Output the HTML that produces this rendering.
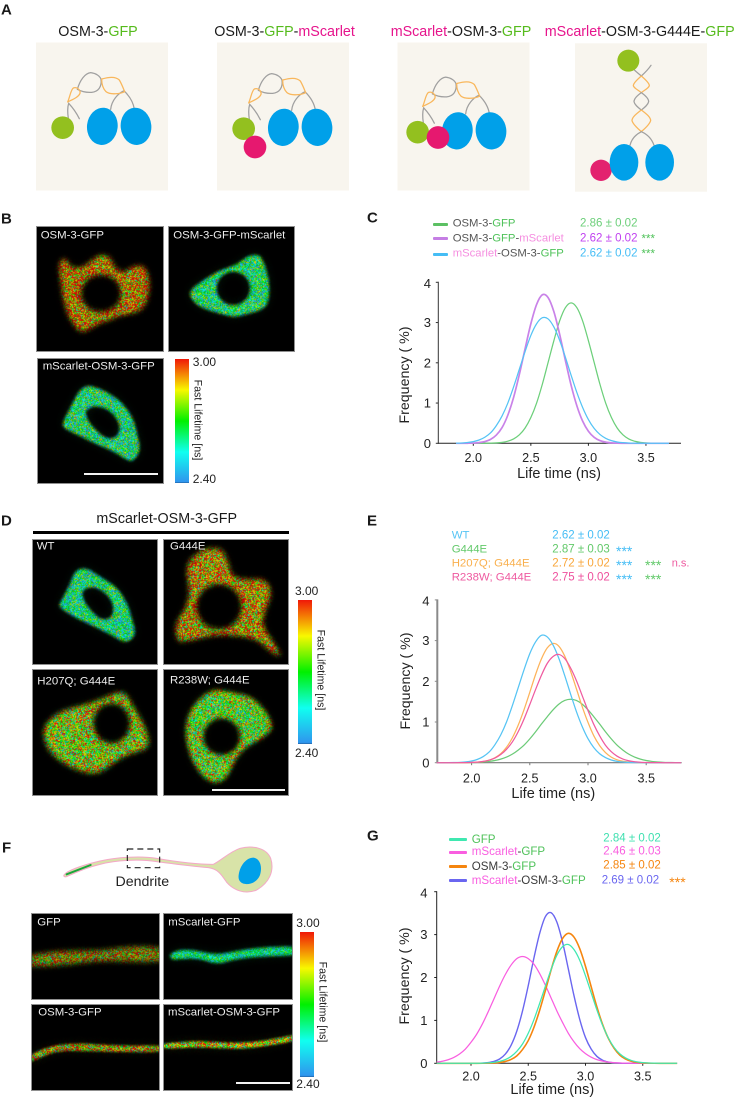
<!DOCTYPE html>
<html lang="en">
<head>
<meta charset="utf-8">
<title>OSM-3 FLIM figure</title>
<style>
html,body{margin:0;padding:0;background:#fff}
body{position:relative;width:736px;height:1100px;overflow:hidden;font-family:"Liberation Sans",sans-serif;color:#222}
.t{position:absolute;white-space:nowrap;line-height:1;transform:translateY(-50%)}
.c{transform:translate(-50%,-50%)}
.rl{transform:translate(-50%,-50%) rotate(-90deg)}
.rr{transform:translate(-50%,-50%) rotate(90deg)}
.letter{font-weight:bold;font-size:15px;color:#1a1a1a}
.title{font-size:14.3px;color:#1a1a1a}
.img-label{font-size:11.4px;color:#ededed}
.cbl{font-size:12px;color:#222}
.cbt{font-size:10.6px;color:#222}
.leg{font-size:11.3px;color:#555}
.val{font-size:11.5px}
.axt{font-size:14.5px;color:#222}
.ayt{font-size:14.2px;color:#222}
.line{position:absolute;height:3px;border-radius:1px}
canvas{position:absolute;background:#000;outline:1px solid #8f8f8f;outline-offset:-1px}
.bar{position:absolute;background:#f2f2f2;height:2px}
.cb{position:absolute;background:linear-gradient(to bottom,#f01808 0%,#f8f800 25%,#00f000 50%,#10fff0 75%,#2f96ee 99%,#2060a0 100%)}
svg.full{position:absolute;left:0;top:0}
i{font-style:normal}
.g{color:#55bb1c}.m{color:#e6148c}
.lg{color:#4fc25a}.lm{color:#f58ee0}
</style>
</head>
<body>

<!-- PANEL A -->
<svg class="full" width="736" height="200" viewBox="0 0 736 200">
  <defs>
    <g id="motor-linkers" fill="none" stroke-width="3.8" stroke-linecap="round">
      <path stroke="#a0a0a0" d="M272 208 C275 180 295 160 312 152 C325 165 340 185 343 208"/>
      <path stroke="#a0a0a0" d="M172 148 C180 120 195 100 212 98 C228 100 240 108 243 118 C246 140 235 155 215 157 C200 158 185 155 172 148"/>
      <path stroke="#a0a0a0" d="M145 235 C142 215 143 200 146 190 C160 205 170 220 178 236"/>
      <path stroke="#f9b75c" d="M245 117 C265 112 285 108 298 120 C305 132 310 145 314 155 C300 162 270 165 258 155 C248 145 245 130 245 117"/>
      <path stroke="#f9b75c" d="M143 186 C150 170 152 150 160 144 C172 140 182 150 180 160 C175 172 158 178 143 186"/>
    </g>
  </defs>
  <rect x="36" y="42.5" width="132" height="148" fill="#f8f5ee"/>
  <rect x="217" y="42.5" width="132" height="148" fill="#f8f5ee"/>
  <rect x="397.5" y="42.5" width="132" height="148" fill="#f8f5ee"/>
  <rect x="575" y="43.3" width="132" height="148.4" fill="#f8f5ee"/>

  <g transform="translate(20,40) scale(.33333)">
    <use href="#motor-linkers"/>
    <ellipse cx="247" cy="259" rx="46" ry="56" fill="#00a0e9" transform="rotate(6 247 259)"/>
    <ellipse cx="348" cy="259" rx="46" ry="56" fill="#00a0e9" transform="rotate(-6 348 259)"/>
    <circle cx="128" cy="263" r="34" fill="#93c01f"/>
  </g>
  <g transform="translate(201,41) scale(.33333)">
    <use href="#motor-linkers"/>
    <ellipse cx="247" cy="259" rx="46" ry="56" fill="#00a0e9" transform="rotate(6 247 259)"/>
    <ellipse cx="348" cy="259" rx="46" ry="56" fill="#00a0e9" transform="rotate(-6 348 259)"/>
    <circle cx="128" cy="263" r="34" fill="#93c01f"/>
    <circle cx="162" cy="318" r="34" fill="#e6186f"/>
  </g>
  <g transform="translate(375,44.5) scale(.33333)">
    <use href="#motor-linkers"/>
    <ellipse cx="247" cy="259" rx="46" ry="56" fill="#00a0e9" transform="rotate(6 247 259)"/>
    <ellipse cx="348" cy="259" rx="46" ry="56" fill="#00a0e9" transform="rotate(-6 348 259)"/>
    <circle cx="128" cy="263" r="34" fill="#93c01f"/>
    <circle cx="189" cy="279" r="34" fill="#e6186f"/>
  </g>
  <g transform="translate(570,40) scale(.33333)">
    <g fill="none" stroke-width="3.8" stroke-linecap="round">
      <path stroke="#a0a0a0" d="M184 78 C192 92 205 100 214 108 C225 98 235 88 243 76"/>
      <path stroke="#f9b75c" d="M214 108 C200 120 190 130 190 137 C192 145 205 150 214 158 M214 108 C228 120 238 130 238 137 C236 145 223 150 214 158"/>
      <path stroke="#a0a0a0" d="M214 158 C200 168 192 176 192 185 C194 195 205 203 214 210 M214 158 C228 168 236 176 236 185 C234 195 223 203 214 210"/>
      <path stroke="#f9b75c" d="M214 210 C198 222 186 232 186 242 C190 255 204 266 214 275 M214 210 C230 222 242 232 242 242 C238 255 224 266 214 275"/>
      <path stroke="#a0a0a0" d="M214 275 C200 282 185 295 180 316 M214 275 C230 282 245 295 252 316"/>
    </g>
    <circle cx="175" cy="62" r="33" fill="#93c01f"/>
    <circle cx="93" cy="391" r="32" fill="#e3226f"/>
    <ellipse cx="162" cy="367" rx="43" ry="55" fill="#00a0e9"/>
    <ellipse cx="269" cy="367" rx="43" ry="55" fill="#00a0e9"/>
  </g>
</svg>
<div class="t letter" style="left:1px;top:10px">A</div>
<div class="t title c" style="left:98px;top:32px">OSM-3-<i class="g">GFP</i></div>
<div class="t title c" style="left:284.5px;top:32px">OSM-3-<i class="g">GFP</i>-<i class="m">mScarlet</i></div>
<div class="t title c" style="left:461px;top:32px"><i class="m">mScarlet</i>-OSM-3-<i class="g">GFP</i></div>
<div class="t title c" style="left:639.7px;top:32px"><i class="m">mScarlet</i>-OSM-3-G444E-<i class="g">GFP</i></div>

<!-- PANEL B -->
<div class="t letter" style="left:1px;top:219px">B</div>
<canvas id="b1" width="128" height="126" style="left:36px;top:226px"></canvas>
<canvas id="b2" width="127" height="126" style="left:168px;top:226px"></canvas>
<canvas id="b3" width="127" height="126" style="left:37px;top:358px"></canvas>
<div class="t img-label" style="left:40.7px;top:235.7px">OSM-3-GFP</div>
<div class="t img-label" style="left:173.3px;top:235.7px">OSM-3-GFP-mScarlet</div>
<div class="t img-label" style="left:42.7px;top:366.7px">mScarlet-OSM-3-GFP</div>
<div class="bar" style="left:84.3px;top:473px;width:74px"></div>
<div class="cb" style="left:175.3px;top:359px;width:13.4px;height:123.7px"></div>
<div class="t cbl" style="left:192.7px;top:362px">3.00</div>
<div class="t cbl" style="left:192.7px;top:479px">2.40</div>
<div class="t cbt rr" style="left:196.7px;top:420px">Fast Lifetime [ns]</div>

<!-- PANEL C -->
<div class="t letter" style="left:367px;top:218px">C</div>
<div class="line" style="left:433.3px;top:222.5px;width:15px;background:#5cc063"></div>
<div class="line" style="left:433.3px;top:237.2px;width:15px;background:#c57ee4"></div>
<div class="line" style="left:433.3px;top:252.5px;width:15px;background:#45bdf5"></div>
<div class="t leg" style="left:452.7px;top:224px">OSM-3-<i class="lg">GFP</i></div>
<div class="t leg" style="left:452.7px;top:239px">OSM-3-<i class="lg">GFP</i>-<i class="lm">mScarlet</i></div>
<div class="t leg" style="left:452.7px;top:254px"><i class="lm">mScarlet</i>-OSM-3-<i class="lg">GFP</i></div>
<div class="t val" style="left:580px;top:224px;color:#6ccf7a">2.86 ± 0.02</div>
<div class="t val" style="left:580px;top:239px;color:#c040f0">2.62 ± 0.02</div>
<div class="t val" style="left:580px;top:254px;color:#45bdf5">2.62 ± 0.02</div>
<div class="t val" style="left:641.5px;top:240px;color:#4fc25a">***</div>
<div class="t val" style="left:641.5px;top:255px;color:#4fc25a">***</div>
<div class="t axt c" style="left:559px;top:474.3px">Life time (ns)</div>
<div class="t ayt rl" style="left:405px;top:375px">Frequency ( %)</div>
<svg class="full" id="chart-c" width="736" height="1100"></svg>

<!-- PANEL D -->
<div class="t letter" style="left:1px;top:521px">D</div>
<div class="t title c" style="left:166.7px;top:519.3px">mScarlet-OSM-3-GFP</div>
<div style="position:absolute;left:33.3px;top:530.7px;width:256px;height:3.2px;background:#000"></div>
<canvas id="d1" width="126" height="126" style="left:32px;top:539px"></canvas>
<canvas id="d2" width="126" height="126" style="left:163px;top:539px"></canvas>
<canvas id="d3" width="126" height="127" style="left:32px;top:669px"></canvas>
<canvas id="d4" width="126" height="127" style="left:163px;top:669px"></canvas>
<div class="t img-label" style="left:36.7px;top:547.3px">WT</div>
<div class="t img-label" style="left:170px;top:547.3px">G444E</div>
<div class="t img-label" style="left:37.3px;top:681.7px">H207Q; G444E</div>
<div class="t img-label" style="left:170px;top:681px">R238W; G444E</div>
<div class="bar" style="left:212px;top:788.7px;width:73.3px"></div>
<div class="cb" style="left:298.3px;top:600px;width:13.7px;height:144.3px"></div>
<div class="t cbl" style="left:295px;top:591px">3.00</div>
<div class="t cbl" style="left:295px;top:753.3px">2.40</div>
<div class="t cbt rr" style="left:320px;top:670px">Fast Lifetime [ns]</div>

<!-- PANEL E -->
<div class="t letter" style="left:367px;top:521px">E</div>
<div class="t leg" style="left:451.7px;top:535.7px;color:#56c4f4;font-size:11.4px">WT</div>
<div class="t leg" style="left:451.7px;top:549.7px;color:#62c96a;font-size:11.4px">G444E</div>
<div class="t leg" style="left:451.7px;top:564px;color:#f9b04e;font-size:11.4px">H207Q; G444E</div>
<div class="t leg" style="left:451.7px;top:578px;color:#ee5aa0;font-size:11.4px">R238W; G444E</div>
<div class="t val" style="left:552.3px;top:535.7px;color:#45bdf5">2.62 ± 0.02</div>
<div class="t val" style="left:552.3px;top:549.7px;color:#62c96a">2.87 ± 0.03</div>
<div class="t val" style="left:552.3px;top:564px;color:#f9a63a">2.72 ± 0.02</div>
<div class="t val" style="left:552.3px;top:578px;color:#ee4f9c">2.75 ± 0.02</div>
<div class="t val" style="left:616px;top:551px;color:#45bdf5;font-size:14px">***</div>
<div class="t val" style="left:616px;top:565px;color:#45bdf5;font-size:14px">***</div>
<div class="t val" style="left:645px;top:565px;color:#62c96a;font-size:14px">***</div>
<div class="t val" style="left:671.7px;top:564px;color:#ee5aa0;font-size:11px">n.s.</div>
<div class="t val" style="left:616px;top:579px;color:#45bdf5;font-size:14px">***</div>
<div class="t val" style="left:645px;top:579px;color:#62c96a;font-size:14px">***</div>
<div class="t axt c" style="left:553.3px;top:794.3px">Life time (ns)</div>
<div class="t ayt rl" style="left:406px;top:681px">Frequency ( %)</div>
<svg class="full" id="chart-e" width="736" height="1100"></svg>

<!-- PANEL F -->
<div class="t letter" style="left:2px;top:848px">F</div>
<svg class="full" width="736" height="1100">
  <g transform="translate(0,825) scale(.33333)">
    <path d="M192 150 C200 138 240 122 300 108 C350 97 420 92 470 100 C540 112 600 118 640 118 C665 105 690 80 720 70 C760 60 800 70 812 100 C825 140 805 175 770 195 C735 210 700 195 680 172 C665 150 655 132 625 128 C560 122 510 115 470 110 C420 102 350 105 300 118 C250 130 215 148 200 155 C193 157 190 153 192 150 Z" fill="#d8e3a8" stroke="#f4a8c8" stroke-width="3"/>
    <path d="M716 150 C720 120 740 98 760 98 C780 100 788 125 780 150 C770 175 745 180 730 176 C720 172 714 165 716 150Z" fill="#00a0e9"/>
    <path d="M200 148 L272 120" stroke="#1ca53c" stroke-width="6" stroke-linecap="round" fill="none"/>
    <rect x="382" y="72" width="97" height="56" fill="none" stroke="#222" stroke-width="3.4" stroke-dasharray="18 12"/>
  </g>
</svg>
<div class="t c" style="left:142.3px;top:882.3px;font-size:14.2px;color:#222">Dendrite</div>
<canvas id="f1" width="129" height="87" style="left:31px;top:913px"></canvas>
<canvas id="f2" width="130" height="87" style="left:163px;top:913px"></canvas>
<canvas id="f3" width="129" height="87" style="left:31px;top:1004px"></canvas>
<canvas id="f4" width="130" height="87" style="left:163px;top:1004px"></canvas>
<div class="t img-label" style="left:37.3px;top:923.3px">GFP</div>
<div class="t img-label" style="left:168.3px;top:923.3px">mScarlet-GFP</div>
<div class="t img-label" style="left:38.3px;top:1013.3px">OSM-3-GFP</div>
<div class="t img-label" style="left:168px;top:1013.3px">mScarlet-OSM-3-GFP</div>
<div class="bar" style="left:236px;top:1082.3px;width:54px"></div>
<div class="cb" style="left:300.3px;top:932.3px;width:13.7px;height:144.4px"></div>
<div class="t cbl" style="left:296.3px;top:923.3px">3.00</div>
<div class="t cbl" style="left:296.3px;top:1084.3px">2.40</div>
<div class="t cbt rr" style="left:322.3px;top:1002px">Fast Lifetime [ns]</div>

<!-- PANEL G -->
<div class="t letter" style="left:367px;top:835.5px">G</div>
<div class="line" style="left:449px;top:837.5px;width:17.7px;background:#3fe8b0"></div>
<div class="line" style="left:449px;top:850.8px;width:17.7px;background:#f95ee0"></div>
<div class="line" style="left:449px;top:864.8px;width:17.7px;background:#f5850f"></div>
<div class="line" style="left:449px;top:879.2px;width:17.7px;background:#6a66f0"></div>
<div class="t leg" style="left:471.7px;top:839.5px;color:#3a3a3a;font-size:11.6px"><i class="lg">GFP</i></div>
<div class="t leg" style="left:471.7px;top:852.3px;color:#3a3a3a;font-size:11.6px"><i style="color:#f95ee0">mScarlet</i>-<i class="lg">GFP</i></div>
<div class="t leg" style="left:471.7px;top:866.8px;color:#3a3a3a;font-size:11.6px">OSM-3-<i class="lg">GFP</i></div>
<div class="t leg" style="left:471.7px;top:880.5px;color:#3a3a3a;font-size:11.6px"><i style="color:#f95ee0">mScarlet</i>-OSM-3-<i class="lg">GFP</i></div>
<div class="t val" style="left:603.3px;top:838.5px;color:#3fe0b0">2.84 ± 0.02</div>
<div class="t val" style="left:603.3px;top:852.3px;color:#f95ee0">2.46 ± 0.03</div>
<div class="t val" style="left:603.3px;top:866.3px;color:#f5850f">2.85 ± 0.02</div>
<div class="t val" style="left:601.7px;top:880.5px;color:#6a66f0">2.69 ± 0.02</div>
<div class="t" style="left:669.3px;top:882px;color:#f5850f;font-size:14px">***</div>
<div class="t axt c" style="left:552.3px;top:1090px">Life time (ns)</div>
<div class="t ayt rl" style="left:405px;top:976px">Frequency ( %)</div>
<svg class="full" id="chart-g" width="736" height="1100"></svg>

<script>
/* ---------- chart data ---------- */
const xTickValues = [2.0, 2.5, 3.0, 3.5];
const yTickValues = [0, 1, 2, 3, 4];

const lifetimesC = [1.85,1.90,1.95,2.00,2.05,2.10,2.15,2.20,2.25,2.30,2.35,2.40,2.45,2.50,2.55,2.60,2.65,2.70,2.75,2.80,2.85,2.90,2.95,3.00,3.05,3.10,3.15,3.20,3.25,3.30,3.35,3.40,3.45,3.50,3.55,3.60,3.65,3.70];
const osm3Gfp = [0,0,0,0,0,.001,.004,.010,.024,.053,.109,.21,.38,.64,1.00,1.47,2.01,2.55,3.04,3.37,3.49,3.37,3.04,2.55,2.01,1.47,1.00,.64,.38,.21,.109,.053,.024,.010,.004,.001,0,0];
const osm3GfpMscarlet = [0,0,.002,.006,.017,.043,.097,.205,.39,.70,1.14,1.71,2.35,2.97,3.45,3.69,3.62,3.27,2.71,2.06,1.44,.93,.55,.30,.149,.068,.029,.011,.004,.001,0,0,0,0,0,0,0,0];
const mscarletOsm3Gfp = [.004,.009,.020,.042,.082,.151,.26,.44,.68,1.00,1.40,1.84,2.28,2.68,2.97,3.12,3.09,2.89,2.56,2.14,1.69,1.26,.89,.59,.37,.22,.125,.066,.033,.016,.007,.003,.001,0,0,0,0,0];

const lifetimesE = [1.70,1.75,1.80,1.85,1.90,1.95,2.00,2.05,2.10,2.15,2.20,2.25,2.30,2.35,2.40,2.45,2.50,2.55,2.60,2.65,2.70,2.75,2.80,2.85,2.90,2.95,3.00,3.05,3.10,3.15,3.20,3.25,3.30,3.35,3.40,3.45,3.50,3.55,3.60,3.65,3.70,3.75,3.80];
const wtValues = [0,0,.001,.004,.009,.020,.042,.082,.151,.26,.44,.68,1.00,1.40,1.84,2.28,2.68,2.97,3.13,3.09,2.89,2.56,2.14,1.69,1.26,.89,.59,.37,.22,.125,.066,.033,.016,.007,.003,.001,0,0,0,0,0,0,0];
const g444eValues = [0,0,0,0,.001,.002,.005,.009,.017,.031,.053,.088,.139,.21,.31,.43,.585,.76,.95,1.13,1.30,1.44,1.53,1.56,1.53,1.44,1.30,1.13,.95,.76,.585,.43,.31,.21,.139,.088,.053,.031,.017,.009,.005,.002,.001];
const h207qValues = [0,0,0,0,.001,.002,.006,.014,.030,.062,.121,.22,.38,.61,.92,1.30,1.73,2.17,2.55,2.82,2.93,2.86,2.62,2.25,1.82,1.38,.99,.66,.42,.25,.137,.071,.035,.016,.007,.003,.001,0,0,0,0,0,0];
const r238wValues = [0,0,0,0,.001,.003,.007,.015,.032,.062,.114,.20,.33,.51,.76,1.07,1.43,1.80,2.15,2.44,2.61,2.66,2.56,2.33,2.02,1.65,1.28,.94,.66,.43,.27,.16,.090,.048,.024,.011,.005,.002,.001,0,0,0,0];

const lifetimesG = [1.70,1.75,1.80,1.85,1.90,1.95,2.00,2.05,2.10,2.15,2.20,2.25,2.30,2.35,2.40,2.45,2.50,2.55,2.60,2.65,2.70,2.75,2.80,2.85,2.90,2.95,3.00,3.05,3.10,3.15,3.20,3.25,3.30,3.35,3.40,3.45,3.50,3.55,3.60,3.65,3.70,3.75,3.80];
const gfpValues = [0,0,0,0,0,0,.001,.002,.004,.010,.021,.044,.086,.16,.28,.45,.70,1.02,1.40,1.80,2.19,2.52,2.72,2.77,2.65,2.40,2.04,1.64,1.24,.88,.59,.37,.22,.125,.066,.033,.015,.007,.003,.001,0,0,0];
const mscarletGfpValues = [.027,.048,.083,.137,.217,.33,.49,.68,.92,1.20,1.50,1.80,2.07,2.29,2.44,2.49,2.44,2.31,2.09,1.82,1.52,1.22,.95,.70,.50,.34,.225,.142,.086,.051,.028,.015,.008,.004,.002,.001,0,0,0,0,0,0,0];
const osm3GfpValuesG = [0,0,0,0,0,0,0,0,.001,.003,.008,.019,.043,.09,.174,.32,.53,.84,1.24,1.70,2.18,2.61,2.91,3.03,2.94,2.67,2.26,1.78,1.31,.90,.58,.35,.19,.10,.049,.022,.009,.004,.001,0,0,0,0];
const mscarletOsm3ValuesG = [0,0,0,0,0,0,0,.002,.006,.017,.043,.10,.215,.42,.75,1.22,1.81,2.46,3.03,3.42,3.51,3.29,2.82,2.20,1.57,1.02,.60,.33,.16,.072,.030,.011,.004,.001,0,0,0,0,0,0,0,0,0];

/* ---------- chart drawing ---------- */
const SVGNS = 'http://www.w3.org/2000/svg';

function smoothPath(pts) {
  let d = 'M' + pts[0][0].toFixed(2) + ' ' + pts[0][1].toFixed(2);
  for (let i = 0; i < pts.length - 1; i++) {
    const p0 = pts[Math.max(i - 1, 0)], p1 = pts[i], p2 = pts[i + 1], p3 = pts[Math.min(i + 2, pts.length - 1)];
    const c1x = p1[0] + (p2[0] - p0[0]) / 6, c1y = p1[1] + (p2[1] - p0[1]) / 6;
    const c2x = p2[0] - (p3[0] - p1[0]) / 6, c2y = p2[1] - (p3[1] - p1[1]) / 6;
    d += 'C' + c1x.toFixed(2) + ' ' + c1y.toFixed(2) + ' ' + c2x.toFixed(2) + ' ' + c2y.toFixed(2) + ' ' + p2[0].toFixed(2) + ' ' + p2[1].toFixed(2);
  }
  return d;
}

function drawChart(cfg) {
  const svg = document.getElementById(cfg.id);
  const xScale = v => cfg.x2 + (v - 2.0) * cfg.xPerNs;
  const yScale = v => cfg.y0 - v * cfg.yPerUnit;

  const addLine = (x1, y1, x2, y2, color, width) => {
    const l = document.createElementNS(SVGNS, 'line');
    l.setAttribute('x1', x1); l.setAttribute('y1', y1);
    l.setAttribute('x2', x2); l.setAttribute('y2', y2);
    l.setAttribute('stroke', color); l.setAttribute('stroke-width', width);
    
    
    svg.appendChild(l);
  };

  addLine(cfg.axisX, yScale(4) - .5, cfg.axisX, cfg.y0 + .5, cfg.yColor, cfg.yWidth);
  addLine(cfg.axisX - .5, cfg.y0, cfg.xEnd, cfg.y0, cfg.xColor, cfg.xWidth);

  yTickValues.forEach(v => {
    addLine(cfg.axisX - 2.5, yScale(v), cfg.axisX, yScale(v), cfg.yColor, 1);
    const t = document.createElementNS(SVGNS, 'text');
    t.setAttribute('x', cfg.yLabelRight);
    t.setAttribute('y', yScale(v) + 4.6 + (v === 4 ? 1 : 0));
    t.setAttribute('text-anchor', 'end');
    t.setAttribute('font-size', '13');
    t.setAttribute('fill', '#222');
    t.setAttribute('font-family', '"Liberation Sans", sans-serif');
    
    
    t.textContent = String(v);
    svg.appendChild(t);
  });

  xTickValues.forEach(v => {
    addLine(xScale(v), cfg.y0, xScale(v), cfg.y0 + 2.5, cfg.xColor, 1);
    const t = document.createElementNS(SVGNS, 'text');
    t.setAttribute('x', xScale(v));
    t.setAttribute('y', cfg.xLabelY + 4.6);
    t.setAttribute('text-anchor', 'middle');
    t.setAttribute('font-size', '12.6');
    t.setAttribute('fill', '#222');
    t.setAttribute('font-family', '"Liberation Sans", sans-serif');
    
    
    t.textContent = v.toFixed(1);
    svg.appendChild(t);
  });

  cfg.series.forEach(s => {
    const pts = cfg.times.map((x, i) => [xScale(x), yScale(s.values[i])]);
    const p = document.createElementNS(SVGNS, 'path');
    p.setAttribute('d', smoothPath(pts));
    p.setAttribute('fill', 'none');
    p.setAttribute('stroke', s.color);
    p.setAttribute('stroke-width', s.width || 1.25);
    
    
    svg.appendChild(p);
  });
}

drawChart({
  id: 'chart-c', times: lifetimesC, x2: 473.3, xPerNs: 115.1, y0: 443.3, yPerUnit: 40.25,
  axisX: 438.3, xEnd: 681, yLabelRight: 431, xLabelY: 457.3,
  yColor: '#333', yWidth: 1, xColor: '#222', xWidth: 1,
  series: [
    { values: osm3Gfp, color: '#6ccf7a' },
    { values: osm3GfpMscarlet, color: '#c982e8', width: 1.7 },
    { values: mscarletOsm3Gfp, color: '#55c3f5' }
  ]
});
drawChart({
  id: 'chart-e', times: lifetimesE, x2: 471.6, xPerNs: 116.4, y0: 762.7, yPerUnit: 40.7,
  axisX: 437.3, xEnd: 681.7, yLabelRight: 429.5, xLabelY: 777.7,
  yColor: '#8a8a8a', yWidth: 2, xColor: '#777', xWidth: 1.2,
  series: [
    { values: g444eValues, color: '#6ccb78' },
    { values: h207qValues, color: '#fdb35a' },
    { values: wtValues, color: '#56c4f4' },
    { values: r238wValues, color: '#ef5b9f' }
  ]
});
drawChart({
  id: 'chart-g', times: lifetimesG, x2: 471, xPerNs: 114.5, y0: 1063.3, yPerUnit: 42.9,
  axisX: 436.7, xEnd: 677, yLabelRight: 427.5, xLabelY: 1076,
  yColor: '#222', yWidth: 1, xColor: '#222', xWidth: 1,
  series: [
    { values: mscarletOsm3ValuesG, color: '#6a66f0', width: 1.4 },
    { values: mscarletGfpValues, color: '#f95ee0' },
    { values: osm3GfpValuesG, color: '#f5850f', width: 1.6 },
    { values: gfpValues, color: '#3fe8b0' }
  ]
});
</script>

<script>
/* ---------- micrograph textures (procedural speckle, not chart data) ---------- */
function speckle(seed) {
  let a = seed >>> 0;
  return function () {
    a = (a + 0x6D2B79F5) >>> 0;
    let t = a;
    t = Math.imul(t ^ (t >>> 15), t | 1);
    t ^= t + Math.imul(t ^ (t >>> 7), t | 61);
    return ((t ^ (t >>> 14)) >>> 0) / 4294967296;
  };
}
const cmapStops = [[0, 47, 150, 238], [.25, 16, 255, 240], [.5, 0, 240, 0], [.75, 248, 248, 0], [1, 248, 16, 8]];
function cmap(t) {
  t = Math.max(0, Math.min(1, t));
  for (let i = 0; i < cmapStops.length - 1; i++) {
    const a = cmapStops[i], b = cmapStops[i + 1];
    if (t <= b[0]) {
      const f = (t - a[0]) / (b[0] - a[0]);
      return [a[1] + (b[1] - a[1]) * f, a[2] + (b[2] - a[2]) * f, a[3] + (b[3] - a[3]) * f];
    }
  }
  return cmapStops[4].slice(1);
}
function tracePoly(ctx, pts, conv) {
  const P = pts.map(conv), n = P.length;
  const mid = (a, b) => [(a[0] + b[0]) / 2, (a[1] + b[1]) / 2];
  let m = mid(P[n - 1], P[0]);
  ctx.moveTo(m[0], m[1]);
  for (let i = 0; i < n; i++) {
    const q = mid(P[i], P[(i + 1) % n]);
    ctx.quadraticCurveTo(P[i][0], P[i][1], q[0], q[1]);
  }
  ctx.closePath();
}
function paintCell(c, idx) {
  const cv = document.getElementById(c.id);
  const W = cv.width, H = cv.height;
  const left = parseFloat(cv.style.left), top = parseFloat(cv.style.top);
  const conv = p => [p[0] / 3 + c.ox - left, p[1] / 3 + c.oy - top];
  const off = document.createElement('canvas');
  
  
  off.width = W; off.height = H;
  const o = off.getContext('2d', { willReadFrequently: true });
  const maskAt = blur => {
    o.clearRect(0, 0, W, H);
    o.filter = 'blur(' + blur + 'px)';
    o.beginPath();
    tracePoly(o, c.outer, conv);
    if (c.hole) {
      if (typeof c.hole[0] === 'number') {
        const q = conv([c.hole[0], c.hole[1]]);
        o.moveTo(q[0] + c.hole[2] / 3, q[1]);
        o.ellipse(q[0], q[1], c.hole[2] / 3, c.hole[3] / 3, 0, 0, Math.PI * 2);
      } else {
        tracePoly(o, c.hole, conv);
      }
    }
    o.fillStyle = '#000';
    o.fill('evenodd');
    o.filter = 'none';
    return o.getImageData(0, 0, W, H).data;
  };
  const sharp = maskAt(c.blur || 1.6), halo = maskAt(5), wide = maskAt(9);
  const img = o.createImageData(W, H);
  const rnd = speckle(1000 + idx * 77);
  const gain = c.gain || 1;
  for (let i = 0, n = W * H; i < n; i++) {
    const m = Math.max(sharp[i * 4 + 3] / 255, .14 * halo[i * 4 + 3] / 255);
    const edgeness = 1 - wide[i * 4 + 3] / 255;
    const r1 = rnd(), r2 = rnd(), r3 = rnd();
    const t = c.mean + (c.edge || 0) * edgeness + c.spread * (r1 + r2 - 1);
    const col = cmap(t);
    const v = m * gain * (.72 + .28 * r3);
    img.data[i * 4] = col[0] * v;
    img.data[i * 4 + 1] = col[1] * v;
    img.data[i * 4 + 2] = col[2] * v;
    img.data[i * 4 + 3] = 255;
  }
  o.putImageData(img, 0, 0);
  const ctx = cv.getContext('2d');
  ctx.filter = 'blur(.45px)';
  ctx.drawImage(off, 0, 0);
  ctx.filter = 'none';
}
const cellShapes = [
  { id: 'b1', ox: 0, oy: 205, mean: .8, spread: .68, edge: .12, gain: .95, blur: 2.4,
    outer: [[175,175],[195,155],[215,190],[245,190],[270,170],[300,148],[328,152],[345,190],[370,205],[410,178],[438,188],[450,230],[443,292],[415,323],[370,328],[320,348],[290,358],[260,378],[240,383],[212,348],[197,312],[187,270],[182,225]],
    hole: [303,265,60,56] },
  { id: 'b2', ox: 0, oy: 205, mean: .33, spread: .56, edge: .14, blur: 1.6,
    outer: [[565,258],[610,225],[660,195],[710,180],[745,150],[780,148],[795,180],[808,225],[808,280],[795,312],[740,328],[700,338],[650,322],[610,312],[578,290]],
    hole: [700,250,50,50] },
  { id: 'b3', ox: 0, oy: 205, mean: .33, spread: .58, edge: .1, blur: 1.6,
    outer: [[185,657],[215,600],[240,550],[270,540],[320,560],[365,590],[400,640],[410,680],[423,735],[400,770],[380,765],[340,738],[290,718],[240,693],[195,672]],
    hole: [[255,615],[290,600],[335,620],[362,660],[352,698],[320,702],[280,670],[260,640]] },
  { id: 'd1', ox: 0, oy: 510, mean: .31, spread: .56, edge: .1, blur: 1.6,
    outer: [[175,285],[205,235],[225,180],[260,173],[300,200],[350,230],[380,275],[395,320],[410,378],[375,400],[340,378],[280,348],[225,323],[185,297]],
    hole: [[245,240],[280,228],[320,250],[342,285],[337,322],[305,332],[270,300],[250,270]] },
  { id: 'd2', ox: 0, oy: 510, mean: .8, spread: .72, edge: .02, gain: .98, blur: 2.6,
    outer: [[565,150],[610,118],[665,112],[685,155],[695,200],[740,210],[795,205],[818,250],[795,300],[785,345],[815,390],[850,445],[810,425],[770,385],[700,375],[640,375],[560,395],[530,395],[525,340],[555,300],[570,250],[560,190]],
    hole: [657,290,68,68] },
  { id: 'd3', ox: 0, oy: 510, mean: .64, spread: .68, edge: .08, blur: 2.4,
    outer: [[128,650],[175,605],[250,585],[310,565],[372,538],[400,590],[437,650],[452,715],[405,725],[350,750],[300,792],[240,787],[165,745],[135,703]],
    hole: [335,640,55,60] },
  { id: 'd4', ox: 0, oy: 510, mean: .5, spread: .62, edge: .28, blur: 2.2,
    outer: [[553,640],[585,575],[640,535],[685,545],[765,560],[822,640],[805,675],[735,713],[705,750],[675,818],[618,818],[565,735]],
    hole: [665,680,55,55] },
  { id: 'f1', ox: 0, oy: 825, mean: .76, spread: .68, gain: .78, blur: 2.6,
    outer: [[70,392],[200,375],[300,378],[400,362],[500,368],[500,410],[400,410],[300,407],[200,420],[70,428]] },
  { id: 'f2', ox: 0, oy: 825, mean: .2, spread: .38, blur: 1.4, edge: .22,
    outer: [[510,383],[560,370],[650,391],[730,372],[900,360],[900,392],[780,394],[700,404],[650,419],[590,397],[510,407]] },
  { id: 'f3', ox: 0, oy: 825, mean: .74, spread: .72, gain: .92, blur: 1.2,
    outer: [[70,700],[150,660],[250,654],[350,662],[500,660],[500,682],[350,681],[250,678],[170,678],[120,699],[70,720]] },
  { id: 'f4', ox: 0, oy: 825, mean: .7, spread: .72, gain: 1.1, blur: .8,
    outer: [[470,656],[600,647],[700,655],[800,647],[900,625],[900,646],[800,663],[720,673],[600,666],[470,673]] }
];
cellShapes.forEach(paintCell);
</script>
</body>
</html>
